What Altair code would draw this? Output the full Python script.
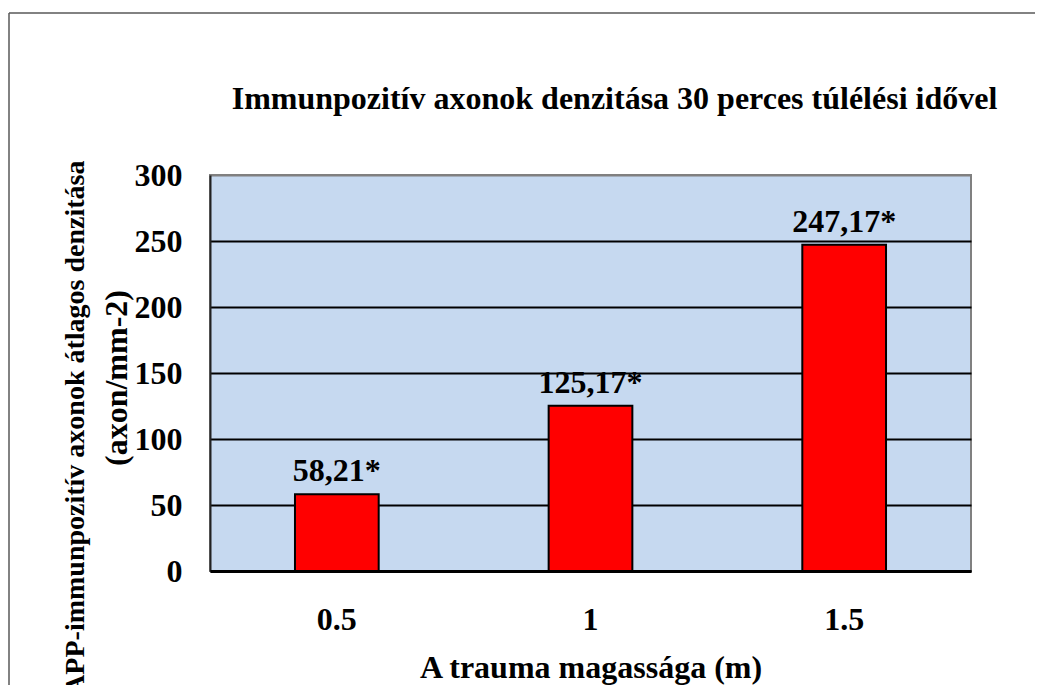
import altair as alt
import pandas as pd

categories = ["0.5", "1", "1.5"]
values = [58.21, 125.17, 247.17]
y_ticks = [0, 50, 100, 150, 200, 250, 300]

title_text = "Immunpozitív axonok denzitása 30 perces túlélési idővel"
x_title = "A trauma magassága (m)"
y_title_1 = "APP-immunpozitív axonok átlagos denzitása"
y_title_2 = "(axon/mm-2)"

FONT = "Liberation Serif"

df = pd.DataFrame({
    "cat": categories,
    "val": values,
    "lab": [f"{v:.2f}".replace(".", ",") + "*" for v in values],
})

x_enc = alt.X(
    "cat:N", sort=categories,
    scale=alt.Scale(paddingInner=0.67, paddingOuter=0.335),
    axis=alt.Axis(
        title=x_title, labelAngle=0, ticks=False, grid=False,
        domainColor="black", domainWidth=3, labelPadding=33,
        titlePadding=17, zindex=1,
    ),
)
y_enc = alt.Y(
    "val:Q",
    scale=alt.Scale(domain=[0, 300], nice=False, zero=True),
    axis=alt.Axis(
        title=y_title_1, values=y_ticks, ticks=False, labelPadding=28,
        domainColor="#222222", domainWidth=2,
        grid=True, gridWidth=2, gridOpacity=1,
        gridColor={"condition": {"test": "datum.value == 300", "value": "#808080"}, "value": "black"},
        titleAngle=-90, titleAlign="right", titleBaseline="alphabetic",
        titleX=-127, titleY=-15, titleFontSize=28,
    ),
)

base = alt.Chart(df)

bars = base.mark_bar(color="#FF0000", stroke="black", strokeWidth=2).encode(x=x_enc, y=y_enc)

labels = base.mark_text(
    font=FONT, fontSize=32, fontWeight="bold", color="black",
    baseline="alphabetic", align="center", dy=-13,
).encode(x=alt.X("cat:N", sort=categories), y="val:Q", text="lab:N")

one = pd.DataFrame({"t": [y_title_2]})
ytitle2 = alt.Chart(one).mark_text(
    font=FONT, fontSize=32, fontWeight="bold", color="black",
    angle=270, align="center", baseline="alphabetic",
).encode(text="t:N", x=alt.value(-83), y=alt.value(203))

frame_top = alt.Chart(one).mark_rule(color="#595959", strokeWidth=1.5).encode(
    x=alt.value(-201), x2=alt.value(900), y=alt.value(-162)
)
frame_left = alt.Chart(one).mark_rule(color="#595959", strokeWidth=1.5).encode(
    x=alt.value(-201), y=alt.value(-162), y2=alt.value(700)
)

chart = alt.layer(frame_top, frame_left, bars, labels, ytitle2).properties(
    width=761, height=396,
    background="white",
    title=alt.TitleParams(
        text=title_text, font=FONT, fontSize=32, fontWeight="bold", color="black",
        anchor="middle", frame="group", dx=24, baseline="alphabetic", offset=-129,
    ),
    autosize=alt.AutoSizeParams(type="none"),
    padding={"left": 202, "top": 167, "right": 64, "bottom": 114},
).configure_view(
    fill="#C6D9F0", stroke="#808080", strokeWidth=2,
).configure_axis(
    labelFont=FONT, labelFontSize=32, labelFontWeight="bold", labelColor="black",
    titleFont=FONT, titleFontSize=32, titleFontWeight="bold", titleColor="black",
)

chart.save("out.html", embed_options={"renderer": "svg", "actions": False})
